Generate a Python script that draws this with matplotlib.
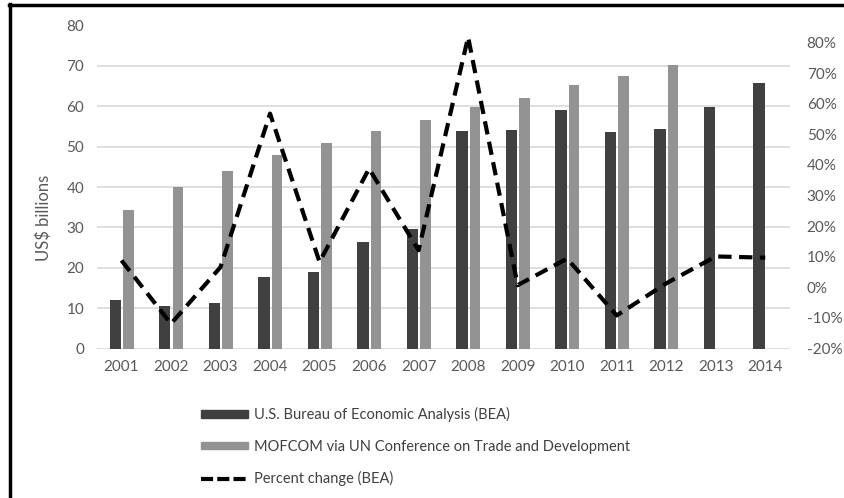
import matplotlib
matplotlib.use("Agg")
import matplotlib.pyplot as plt
from matplotlib.lines import Line2D
from matplotlib.ticker import FuncFormatter
import numpy as np

years = ["2001", "2002", "2003", "2004", "2005", "2006", "2007",
         "2008", "2009", "2010", "2011", "2012", "2013", "2014"]
bea = [12.0, 10.5, 11.2, 17.6, 18.9, 26.4, 29.7,
       53.8, 54.0, 59.0, 53.7, 54.4, 59.9, 65.7]
mofcom = [34.4, 39.9, 44.0, 48.0, 51.0, 53.9, 56.6,
          59.7, 62.1, 65.2, 67.6, 70.1, np.nan, np.nan]
pct_change = [8.8, -11.9, 6.6, 56.8, 8.3, 38.8, 12.1,
              81.8, 0.7, 9.4, -9.2, 1.3, 10.1, 9.7]

plt.rcParams['font.family'] = ['Lato', 'DejaVu Sans']
W, H = 844, 498
fig = plt.figure(figsize=(W / 100, H / 100), dpi=100)

def fx(px):
    return px / W

def fy(py):
    return 1 - py / H

left, right, top, bottom = 96.7, 790, 25.5, 348.5
ax = fig.add_axes([fx(left), fy(bottom), fx(right - left), (bottom - top) / H])

x = np.arange(len(years))
bw = 0.23
dark = "#404040"
light = "#939393"
tick_color = "#595959"

ax.bar(x - 0.125, bea, width=bw, color=dark, zorder=2,
       label="U.S. Bureau of Economic Analysis (BEA)")
ax.bar(x + 0.14, mofcom, width=0.215, color=light, zorder=2,
       label="MOFCOM via UN Conference on Trade and Development")

ax.set_xlim(-0.5, len(years) - 0.5)
ax.set_ylim(0, 80)
ax.set_yticks(range(0, 81, 10))
ax.set_xticks(x)
ax.set_xticklabels(years)
ax.grid(axis='y', color="#d9d9d9", linewidth=1.2, zorder=0)
ax.set_axisbelow(True)
for s in ax.spines.values():
    s.set_visible(False)
ax.tick_params(axis='both', length=0, labelsize=11, colors=tick_color, pad=9)
ax.tick_params(axis='x', pad=8)
ax.set_ylabel("US$ billions", fontsize=12, color=tick_color)
ax.yaxis.set_label_coords(-(left - 52) / (right - left), (bottom - 218) / (bottom - top))

ax2 = ax.twinx()
ax2.plot(x, pct_change, color="black", linewidth=3, linestyle=(0, (3.2, 1.8)),
         zorder=3, label="Percent change (BEA)")
ax2.set_ylim(-20, 85.6)
ax2.set_yticks(range(-20, 81, 10))
ax2.yaxis.set_major_formatter(FuncFormatter(lambda v, p: f"{int(v)}%"))
for s in ax2.spines.values():
    s.set_visible(False)
ax2.tick_params(axis='y', length=0, labelsize=11, colors=tick_color, pad=12)

handles = [
    plt.Rectangle((0, 0), 1, 1, color=dark),
    plt.Rectangle((0, 0), 1, 1, color=light),
    Line2D([0], [0], color="black", linewidth=3, linestyle=(0, (2.9, 1.0))),
]
labels = ["U.S. Bureau of Economic Analysis (BEA)",
          "MOFCOM via UN Conference on Trade and Development",
          "Percent change (BEA)"]
leg = fig.legend(handles, labels, loc="upper left",
                 bbox_to_anchor=(fx(188), fy(394)), frameon=False,
                 fontsize=10.5, handlelength=3.2, handleheight=0.45,
                 labelspacing=1.2, handletextpad=0.4,
                 labelcolor="#404040")

# outer frame (top and left)
fig.add_artist(Line2D([fx(9), fx(844)], [fy(5), fy(5)], color="black", linewidth=2.5,
                      transform=fig.transFigure))
fig.add_artist(Line2D([fx(10), fx(10)], [fy(4), fy(498)], color="black", linewidth=2.5,
                      transform=fig.transFigure))

fig.savefig("out.png", dpi=100)
